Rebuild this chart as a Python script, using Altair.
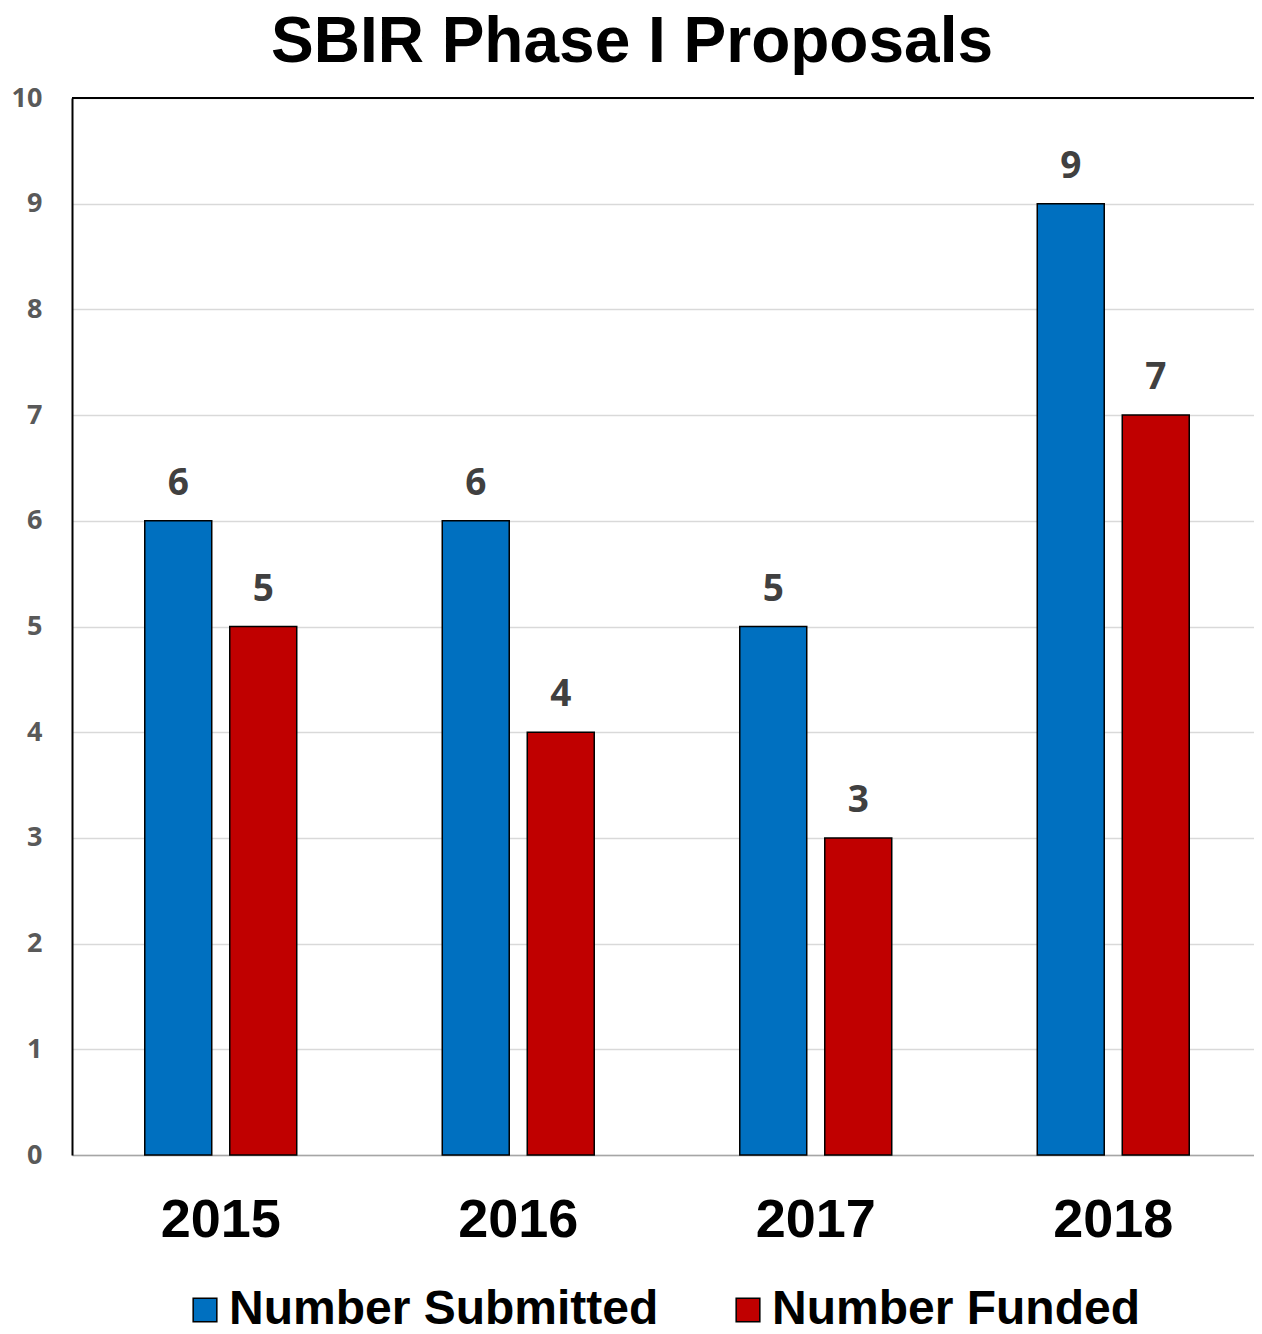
import altair as alt
import pandas as pd

years = ["2015", "2016", "2017", "2018"]
submitted = [6, 6, 5, 9]
funded = [5, 4, 3, 7]
series = ["Number Submitted", "Number Funded"]
colors = ["#0070C0", "#C00000"]

rows = []
for i, y in enumerate(years):
    rows.append({"year": y, "series": series[0], "value": submitted[i]})
    rows.append({"year": y, "series": series[1], "value": funded[i]})
df = pd.DataFrame(rows)

x = alt.X("year:N", sort=years, scale=alt.Scale(paddingInner=0, paddingOuter=0, range=[0, 1190]),
          axis=alt.Axis(title=None, labelAngle=0, labelFont="Liberation Sans", labelFontWeight="bold",
                        labelFontSize=54, labelColor="#000000", labelPadding=38, ticks=False,
                        domainColor="#a6a6a6", domainWidth=1.5, grid=False))
xo = alt.XOffset("series:N", sort=series, scale=alt.Scale(paddingInner=0.212, paddingOuter=0.856))
y = alt.Y("value:Q", scale=alt.Scale(domain=[0, 10], nice=False),
          axis=alt.Axis(title=None, values=list(range(0, 11)), format="d", labelFont="Open Sans",
                        labelFontWeight="bold", labelFontSize=27, labelColor="#595959", labelPadding=30,
                        labelOverlap=False, ticks=False, domainColor="#000000", domainWidth=2,
                        gridColor="#d9d9d9", gridWidth=1.5))
color = alt.Color("series:N", sort=series, scale=alt.Scale(domain=series, range=colors),
                  legend=alt.Legend(title=None, orient="none", legendX=109, legendY=1188,
                                    direction="horizontal", symbolType="square", symbolSize=560,
                                    symbolStrokeColor="#000000", symbolStrokeWidth=1.5,
                                    symbolOpacity=1, labelFont="Liberation Sans", labelFontWeight="bold",
                                    labelFontSize=48, labelColor="#000000", labelOffset=0,
                                    columnPadding=65, padding=0, labelLimit=700))

bars = alt.Chart(df).mark_bar(stroke="#000000", strokeWidth=1.5).encode(
    x=x, xOffset=xo, y=y, color=color)

labels = alt.Chart(df).mark_text(baseline="bottom", dy=-18, font="Open Sans", fontWeight="bold",
                                 fontSize=37, color="#404040").encode(
    x=x, xOffset=xo, y=y, text="value:Q")

top = alt.Chart(df).mark_rule(color="#000000", strokeWidth=2).encode(y=alt.datum(10))

chart = alt.layer(bars, labels, top).properties(
    width=1182, height=1057,
    title=alt.TitleParams("SBIR Phase I Proposals", font="Liberation Sans", fontWeight="bold",
                          fontSize=64, color="#000000", anchor="middle", dx=-31, offset=9),
    autosize=alt.AutoSizeParams(type="none"),
    padding={"left": 64, "top": 90, "right": 0, "bottom": 171},
).configure_view(stroke=None)

chart.save("out.html", embed_options={"renderer": "svg", "actions": False})
